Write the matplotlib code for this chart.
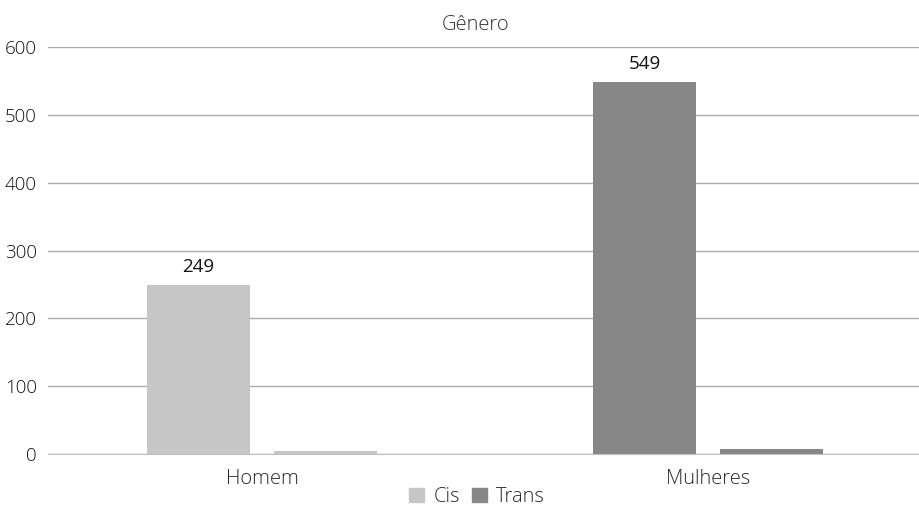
import matplotlib
matplotlib.use('Agg')
import matplotlib.pyplot as plt
from matplotlib.patches import Patch
import numpy as np

categories = ['Homem', 'Mulheres']
series = ['Cis', 'Trans']
cis = [249, 549]
trans = [4, 7]
labels_cis = ['249', '549']

plt.rcParams['font.family'] = ['Open Sans', 'DejaVu Sans']
plt.rcParams['font.weight'] = 'light'

light = '#c6c6c6'
dark = '#878787'
cat_colors = [light, dark]

fig = plt.figure(figsize=(9.19, 5.09), dpi=100)
ax = fig.add_axes([48 / 919, 1 - 454 / 509, 871 / 919, 407 / 509])

x = np.arange(len(categories))
w = 0.231
off = 0.1424
b1 = ax.bar(x - off, cis, w, color=cat_colors, zorder=3)
b2 = ax.bar(x + off, trans, w, color=cat_colors, zorder=3)

for rect, lab in zip(b1, labels_cis):
    ax.annotate(lab, (rect.get_x() + rect.get_width() / 2, rect.get_height()),
                xytext=(0, 13), textcoords='offset points',
                ha='center', va='center', fontsize=13.5, color='#111111',
                fontweight='normal')

ax.set_xlim((48 - 262) / 446, (919 - 262) / 446)
ax.set_ylim(0, 600)
ax.set_yticks(range(0, 601, 100))
ax.set_xticks(x)
ax.set_xticklabels(categories, fontsize=14.5, color='#2a2a2a')
ax.tick_params(axis='y', length=0, labelsize=13.5, labelcolor='#111111', pad=8)
ax.tick_params(axis='x', length=0, pad=11)
ax.grid(True, axis='y', color='#ababab', linewidth=1, zorder=0)
for s in ['top', 'right', 'left']:
    ax.spines[s].set_visible(False)
ax.spines['bottom'].set_color('#c0c0c0')
ax.spines['bottom'].set_zorder(4)

fig.text(476 / 919, 1 - 25 / 509, 'Gênero', ha='center', va='center',
         fontsize=14.5, color='#333333')

handles = [Patch(color=light), Patch(color=dark)]
fig.legend(handles, series, loc='center', bbox_to_anchor=(477 / 919, 1 - 497 / 509),
           ncol=2, frameon=False, fontsize=14.5, handlelength=0.75,
           handleheight=0.75, handletextpad=0.45, columnspacing=0.6,
           labelcolor='#2a2a2a', borderpad=0)

fig.savefig('out.png', dpi=100)
